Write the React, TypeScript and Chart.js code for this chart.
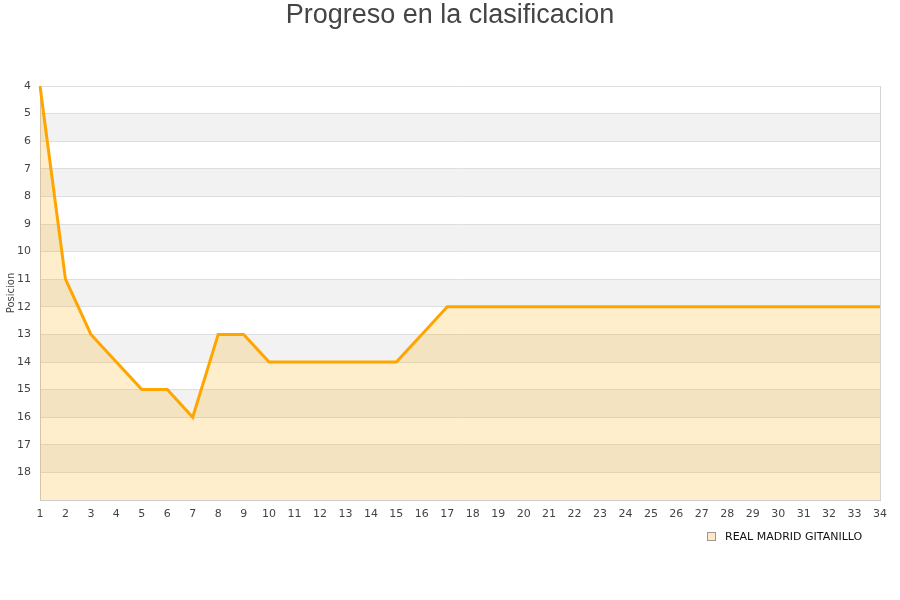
import React, { useEffect, useRef } from "react";
import { Chart, registerables } from "chart.js";

Chart.register(...registerables);

const jornadas: string[] = Array.from({ length: 34 }, (_, i) => String(i + 1));
const posiciones: number[] = [
  4, 11, 13, 14, 15, 15, 16, 13, 13, 14,
  14, 14, 14, 14, 14, 13, 12, 12, 12, 12,
  12, 12, 12, 12, 12, 12, 12, 12, 12, 12,
  12, 12, 12, 12,
];
const equipo = "REAL MADRID GITANILLO";
const titulo = "Progreso en la clasificacion";
const ejeY = "Posicion";
const posMin = 4;
const posMax = 19;

const TICK_FONT = "'DejaVu Sans', sans-serif";

// Alternating horizontal bands behind the plot
const bandas = {
  id: "bandas",
  beforeDraw(chart: any) {
    const { ctx, chartArea } = chart;
    const y = chart.scales.y;
    ctx.save();
    for (let v = posMin; v < posMax; v++) {
      if (v % 2 === 1) {
        const y1 = y.getPixelForValue(v);
        const y2 = y.getPixelForValue(v + 1);
        ctx.fillStyle = "#f2f2f2";
        ctx.fillRect(chartArea.left, y1, chartArea.right - chartArea.left, y2 - y1);
      }
    }
    ctx.restore();
  },
};

// Title, axis caption, frame and legend
const adornos = {
  id: "adornos",
  afterDraw(chart: any) {
    const { ctx, chartArea } = chart;
    ctx.save();
    ctx.strokeStyle = "#d4d4d4";
    ctx.lineWidth = 1;
    ctx.beginPath();
    ctx.moveTo(chartArea.right + 0.5, chartArea.top);
    ctx.lineTo(chartArea.right + 0.5, chartArea.bottom);
    ctx.stroke();

    ctx.fillStyle = "#444444";
    ctx.font = "27px 'Liberation Sans', Arial, sans-serif";
    ctx.textAlign = "center";
    ctx.textBaseline = "middle";
    ctx.fillText(titulo, 450, 16);

    ctx.save();
    ctx.translate(11, 293);
    ctx.rotate(-Math.PI / 2);
    ctx.font = `10px ${TICK_FONT}`;
    ctx.fillStyle = "#444444";
    ctx.fillText(ejeY, 0, 0);
    ctx.restore();

    ctx.fillStyle = "#ffe8c4";
    ctx.strokeStyle = "#999999";
    ctx.fillRect(707.5, 532.5, 8, 8);
    ctx.strokeRect(707.5, 532.5, 8, 8);
    ctx.fillStyle = "#111111";
    ctx.font = `11px ${TICK_FONT}`;
    ctx.textAlign = "left";
    ctx.fillText(equipo, 725, 537);
    ctx.restore();
  },
};

export default function App() {
  const ref = useRef<HTMLCanvasElement | null>(null);

  useEffect(() => {
    if (!ref.current) return;
    const chart = new Chart(ref.current, {
      type: "line",
      data: {
        labels: jornadas,
        datasets: [
          {
            label: equipo,
            data: posiciones,
            borderColor: "#ffa500",
            backgroundColor: "rgba(255,170,0,0.2)",
            borderWidth: 3,
            pointRadius: 0,
            tension: 0,
            fill: { value: posMax },
          },
        ],
      },
      options: {
        responsive: false,
        animation: false,
        layout: { padding: { top: 86, left: 0, right: 20, bottom: 0 } },
        plugins: {
          legend: { display: false },
          title: { display: false },
          tooltip: { enabled: false },
        },
        scales: {
          x: {
            offset: false,
            grid: { display: false, drawTicks: false },
            border: { display: true, color: "#cccccc" },
            ticks: {
              padding: 8,
              color: "#444444",
              font: { family: TICK_FONT, size: 11 },
              maxRotation: 0,
              autoSkip: false,
            },
            afterFit(scale: any) {
              scale.height = 100;
            },
          },
          y: {
            reverse: true,
            min: posMin,
            max: posMax,
            grid: { color: "#dedede", drawTicks: false },
            border: { display: true, color: "#cccccc" },
            ticks: {
              stepSize: 1,
              padding: 9,
              color: "#444444",
              font: { family: TICK_FONT, size: 11 },
              callback: (v: any) => (v === posMax ? "" : String(v)),
            },
            afterFit(scale: any) {
              scale.width = 40;
            },
          },
        },
      },
      plugins: [bandas, adornos],
    });
    return () => chart.destroy();
  }, []);

  return (
    <div style={{ position: "fixed", left: 0, top: 0, width: 900, height: 600, background: "#ffffff" }}>
      <canvas ref={ref} width={900} height={600} />
    </div>
  );
}
